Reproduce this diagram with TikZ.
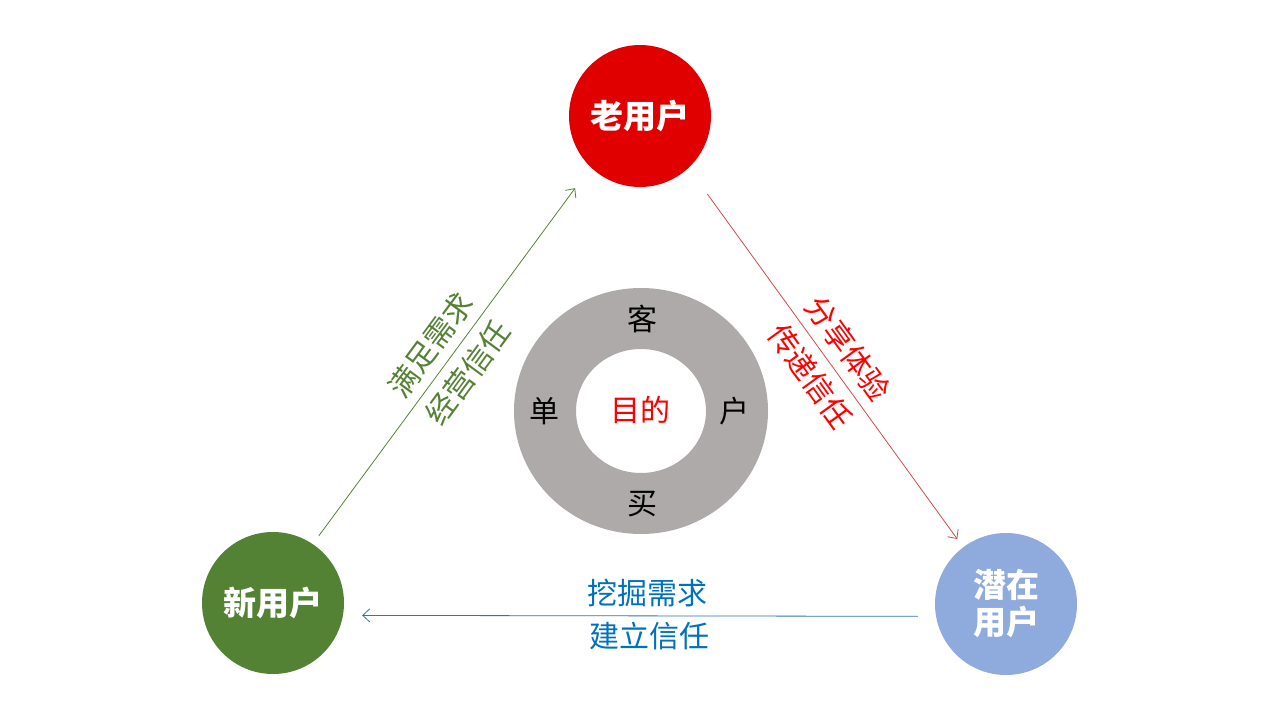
\documentclass[tikz,border=0pt]{standalone}
\usepackage{fontspec}
\setmainfont{Noto Sans CJK SC}
\usetikzlibrary{arrows.meta}

\definecolor{oldred}{HTML}{E00000}
\definecolor{newgreen}{HTML}{548235}
\definecolor{potblue}{HTML}{8FAADC}
\definecolor{ringgray}{HTML}{AEAAAA}
\definecolor{textblue}{HTML}{0070C0}
\definecolor{lineblue}{HTML}{2E75B6}
\definecolor{linered}{HTML}{D84848}

\tikzset{
  user/.style={circle, minimum size=142pt, inner sep=0pt, text=white, align=center,
    font=\fontsize{33}{37}\selectfont\bfseries},
  word/.style={inner sep=0pt, font=\fontsize{30}{33}\selectfont},
  flow/.style={line width=0.8pt, -{Straight Barb[length=7pt,width=13pt]}}
}

\begin{document}
\begin{tikzpicture}[x=1pt,y=-1pt]
  \useasboundingbox (0,0) rectangle (1280,720);

  \node[user, fill=oldred] (old) at (640,116) {老用户};
  \node[user, fill=newgreen] (new) at (273,603) {新用户};
  \node[user, fill=potblue] (potential) at (1006,604) {潜在\\用户};

  % ring in the middle
  \coordinate (ring) at (641,411);
  \fill[ringgray, even odd rule] (ring) ellipse [x radius=127, y radius=123]
    (ring) ellipse [x radius=65, y radius=62];
  \node[word] (ke) at (642,319) {客};
  \node[word] (dan) at (544,411) {单};
  \node[word] (hu) at (734,411) {户};
  \node[word] (mai) at (642,504) {买};
  \node[word, text=red] (goal) at (640,410) {目的};

  \draw[flow, newgreen, shorten <=10pt, shorten >=26pt] (new.56) -- (old.226)
    node[word, midway, sloped, above=9pt, xshift=-4pt] (need1) {满足需求}
    node[word, midway, sloped, below=9pt, xshift=-4pt] (trust1) {经营信任};
  \draw[flow, linered, shorten <=32pt, shorten >=10pt] (old.-47) -- (potential.127)
    node[word, text=red, midway, sloped, above=9pt, xshift=6pt] (share) {分享体验}
    node[word, text=red, midway, sloped, below=9pt, xshift=6pt] (pass) {传递信任};
  \draw[flow, lineblue, shorten <=18pt, shorten >=19pt] (potential.190) -- (new.-10)
    node[word, text=textblue, midway, above=9pt, xshift=8pt] (dig) {挖掘需求}
    node[word, text=textblue, midway, below=6pt, xshift=10pt] (build) {建立信任};
\end{tikzpicture}
\end{document}
